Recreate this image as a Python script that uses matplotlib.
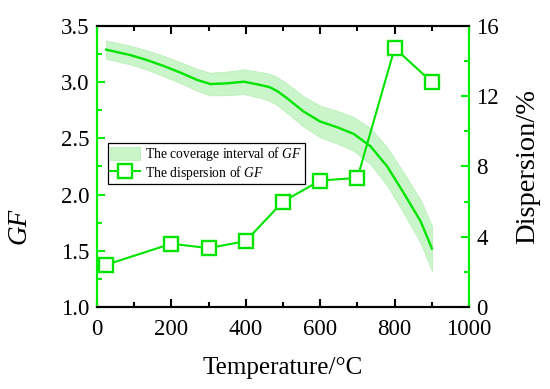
import matplotlib
matplotlib.use("Agg")
import matplotlib.pyplot as plt
import numpy as np
from matplotlib.ticker import MultipleLocator, FormatStrFormatter

plt.rcParams['font.family'] = ['Liberation Serif', 'DejaVu Serif']
plt.rcParams['mathtext.fontset'] = 'custom'
plt.rcParams['mathtext.rm'] = 'Liberation Serif'
plt.rcParams['mathtext.it'] = 'Liberation Serif:italic'

# GF mean curve and coverage interval half-width
t_curve = [25, 90, 135, 180, 225, 270, 305, 350, 395, 440, 465, 485, 510, 555, 600,
           645, 690, 735, 780, 825, 870, 900]
gf_mean = [3.29, 3.242, 3.197, 3.144, 3.085, 3.02, 2.984, 2.99, 3.005, 2.975, 2.955, 2.92,
           2.86, 2.74, 2.65, 2.60, 2.54, 2.43, 2.25, 2.01, 1.76, 1.52]
gf_half = [0.08, 0.083, 0.086, 0.09, 0.093, 0.097, 0.10, 0.105, 0.11, 0.115, 0.12, 0.125,
           0.13, 0.135, 0.14, 0.145, 0.15, 0.16, 0.17, 0.18, 0.19, 0.2]

# Dispersion (%)
t_disp = [25, 200, 300, 400, 500, 600, 700, 800, 900]
dispersion = [2.4, 3.6, 3.35, 3.75, 6.0, 7.2, 7.35, 14.75, 12.8]

green = '#00E400'
spine_green = '#00EE00'
band_color = '#CAF5CA'

fig = plt.figure(figsize=(5.5, 3.89), dpi=100)
ax = fig.add_axes([0.176, 0.211, 0.677, 0.722])
ax2 = ax.twinx()

mean = np.array(gf_mean)
half = np.array(gf_half)
band = ax.fill_between(t_curve, mean - half, mean + half, facecolor=band_color,
                       edgecolor='#B8F0B8', linewidth=0.6)
ax.plot(t_curve, gf_mean, color=green, lw=1.7)

line, = ax2.plot(t_disp, dispersion, color=green, lw=1.5, marker='s', markersize=9.5,
                 markerfacecolor='white', markeredgecolor=green, markeredgewidth=1.7)

ax.set_xlim(0, 1000)
ax.set_ylim(1.0, 3.5)
ax2.set_ylim(0, 16)

ax.xaxis.set_major_locator(MultipleLocator(200))
ax.xaxis.set_minor_locator(MultipleLocator(100))
ax.yaxis.set_major_locator(MultipleLocator(0.5))
ax.yaxis.set_minor_locator(MultipleLocator(0.25))
ax2.yaxis.set_major_locator(MultipleLocator(4))
ax2.yaxis.set_minor_locator(MultipleLocator(2))

ax.tick_params(axis='x', which='both', direction='in', top=True, color='black', labelsize=16.5, width=1.5)
ax.tick_params(axis='x', which='major', length=6, pad=9)
ax.tick_params(axis='x', which='minor', length=3.5)
ax.tick_params(axis='y', which='both', direction='in', color=spine_green, labelsize=16.5, width=1.5)
ax.tick_params(axis='y', which='major', length=6, pad=5)
ax.tick_params(axis='y', which='minor', length=3.5)
ax2.tick_params(axis='y', which='both', direction='in', color=spine_green, labelsize=16.5, width=1.5)
ax2.tick_params(axis='y', which='major', length=6, pad=5)
ax2.tick_params(axis='y', which='minor', length=3.5)

ax.yaxis.set_major_formatter(FormatStrFormatter('%.1f'))

for a in (ax, ax2):
    for s in a.spines.values():
        s.set_linewidth(1.5)
    a.spines['top'].set_color('black')
    a.spines['bottom'].set_color('black')
    a.spines['left'].set_color(spine_green)
    a.spines['right'].set_color(spine_green)

ax.set_xlabel('Temperature/\u00b0C', fontsize=18, labelpad=12)
ax.set_ylabel('GF', fontsize=19.5, style='italic')
ax.yaxis.set_label_coords(-0.175, 0.29)
ax2.set_ylabel('Dispersion/%', fontsize=20.5, labelpad=12)

leg = ax.legend([band, line], ['The coverage interval of $\\it{GF}$', 'The dispersion of $\\it{GF}$'],
                loc='upper left', bbox_to_anchor=(0.0296, 0.584), fontsize=9.8,
                frameon=True, fancybox=False, edgecolor='black', framealpha=1,
                handlelength=2.2, handleheight=1.1, borderpad=0.15, labelspacing=0.05,
                handletextpad=0.4, borderaxespad=0)
leg.get_frame().set_linewidth(0.9)

fig.savefig('out.png', dpi=100)
